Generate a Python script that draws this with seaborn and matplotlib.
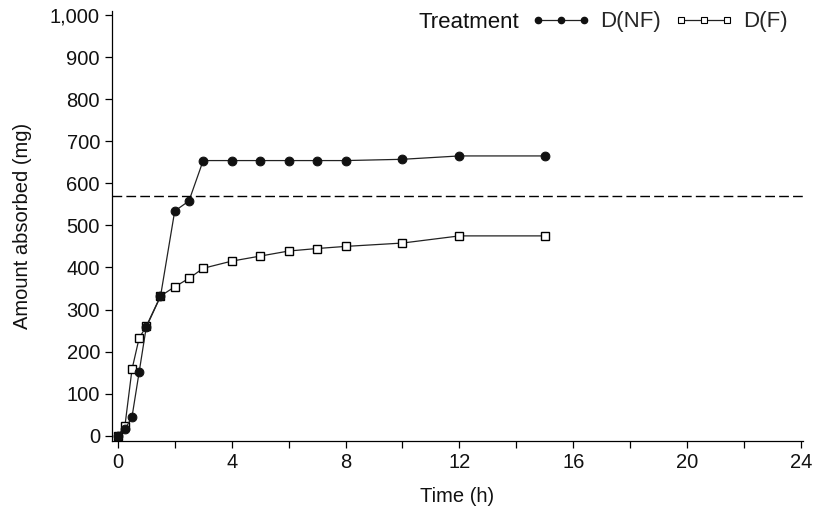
import matplotlib
matplotlib.use("Agg")
import matplotlib.pyplot as plt
import pandas as pd
import seaborn as sns
from matplotlib.lines import Line2D
from matplotlib.ticker import FuncFormatter, MultipleLocator

# sampling times (h)
time_h = [0, 0.25, 0.5, 0.75, 1, 1.5, 2, 2.5, 3, 4, 5, 6, 7, 8, 10, 12, 15]
# amount absorbed (mg)
nf_mg = [0, 15, 45, 151, 258, 331, 534, 558, 654, 654, 654, 654, 654, 654, 657, 665, 665]
f_mg = [0, 23, 158, 232, 260, 332, 354, 374, 398, 415, 427, 439, 445, 450, 458, 475, 475]
ref_level = 570

df = pd.DataFrame({
    "time": time_h * 2,
    "amount": nf_mg + f_mg,
    "Treatment": ["D(NF)"] * len(time_h) + ["D(F)"] * len(time_h),
})

sns.set_style("ticks")
plt.rcParams["font.family"] = ["Liberation Sans", "DejaVu Sans"]

fig = plt.figure(figsize=(8.22, 5.12), dpi=100)
ax = fig.add_axes([0.136, 0.139, 0.841, 0.84])

# F drawn first so the NF circles sit on top
sns.lineplot(data=df, x="time", y="amount", hue="Treatment", style="Treatment",
             hue_order=["D(F)", "D(NF)"], style_order=["D(F)", "D(NF)"],
             palette={"D(F)": "black", "D(NF)": "black"},
             markers={"D(F)": "s", "D(NF)": "o"}, dashes=False,
             markersize=6.3, linewidth=0.9, legend=False, ax=ax)
for ln in ax.lines:
    if ln.get_marker() == "s":
        ln.set_markerfacecolor("white")
        ln.set_markeredgecolor("black")
        ln.set_markeredgewidth(1.0)
        ln.set_color("#222222")
    else:
        ln.set_markerfacecolor("#111111")
        ln.set_markeredgecolor("#111111")
        ln.set_color("#222222")

ax.axhline(ref_level, color="black", lw=1.0, ls=(0, (7, 3)))

ax.set_xlim(-0.21, 24.07)
ax.set_ylim(-12, 1010)
ax.xaxis.set_major_locator(MultipleLocator(4))
ax.xaxis.set_minor_locator(MultipleLocator(2))
ax.yaxis.set_major_locator(MultipleLocator(100))
ax.yaxis.set_major_formatter(FuncFormatter(lambda v, p: f"{v:,.0f}"))
ax.tick_params(axis="both", which="both", direction="out", labelsize=14.5,
               length=5, width=0.9, color="black", labelcolor="#111111")
for s in ["top", "right"]:
    ax.spines[s].set_visible(False)
for s in ["left", "bottom"]:
    ax.spines[s].set_linewidth(0.9)
    ax.spines[s].set_color("black")

ax.set_xlabel("Time (h)", fontsize=14.5, color="#111111", labelpad=11)
ax.set_ylabel("Amount absorbed (mg)", fontsize=14.5, color="#111111", labelpad=13)

handles = [
    Line2D([], [], color="#222222", lw=0.9, marker="o", markersize=4.5,
           markerfacecolor="#111111", markeredgecolor="#111111"),
    Line2D([], [], color="#222222", lw=0.9, marker="s", markersize=4.5,
           markerfacecolor="white", markeredgecolor="black", markeredgewidth=0.8),
]
ax.legend(handles, ["D(NF)", "D(F)"], ncol=2, numpoints=3, frameon=False,
          fontsize=16, handlelength=2.7, handletextpad=0.4, columnspacing=0.6,
          borderpad=0, borderaxespad=0,
          loc="center left", bbox_to_anchor=(531 / 822, 1 - 22 / 512),
          bbox_transform=fig.transFigure)
fig.text(418 / 822, 1 - 22 / 512, "Treatment", fontsize=16, color="#111111",
         ha="left", va="center")

fig.savefig("out.png", dpi=100)
